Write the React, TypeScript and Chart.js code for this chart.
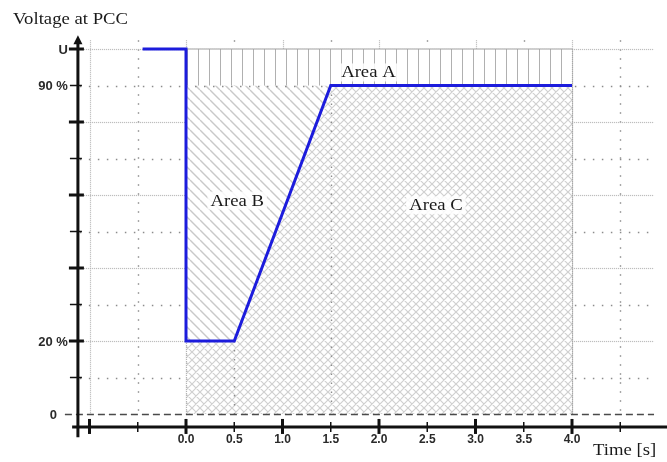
import React, { useEffect, useRef } from 'react';
import { Chart, registerables } from 'chart.js';

Chart.register(...registerables);

// Voltage profile at the point of common coupling (time in s, voltage in % of U)
const stepTime = [-0.45, 0, 0, 0.5, 1.5, 4];
const stepVoltage = [100, 100, 20, 20, 90, 90];

// Area A: band between 90 % and U
const areaATime = [0, 4];
const areaAUpper = [100, 100];
const areaABase = 90;

// Area B: between the voltage curve and 90 %
const areaBTime = [0, 0.5, 1.5];
const areaBLower = [20, 20, 90];
const areaBBase = 90;

// Area C: below the voltage curve
const areaCTime = [0, 0.5, 1.5, 4];
const areaCUpper = [20, 20, 90, 90];
const areaCBase = 0;

const xTickValues = [-1, -0.5, 0, 0.5, 1, 1.5, 2, 2.5, 3, 3.5, 4, 4.5];
const xTickLabels = ['', '', '0.0', '0.5', '1.0', '1.5', '2.0', '2.5', '3.0', '3.5', '4.0', ''];
const yTickValues = [0, 10, 20, 30, 40, 50, 60, 70, 80, 90, 100];
const yTickLabels = ['0', '', '20 %', '', '', '', '', '', '', '90 %', 'U'];

const areaNames = ['Area A', 'Area B', 'Area C'];

const SERIF = "'Liberation Serif', 'Times New Roman', serif";
const SANS = "'Liberation Sans', Arial, sans-serif";

const toPoints = (xs: number[], ys: number[]) => xs.map((x, i) => ({ x, y: ys[i] }));

function makePattern(size: number, color: string, width: number, draw: (g: CanvasRenderingContext2D, s: number) => void) {
  const c = document.createElement('canvas');
  c.width = size;
  c.height = size;
  const g = c.getContext('2d')!;
  g.fillStyle = '#ffffff';
  g.fillRect(0, 0, size, size);
  g.strokeStyle = color;
  g.lineWidth = width;
  g.beginPath();
  draw(g, size);
  g.stroke();
  return g.createPattern(c, 'repeat')!;
}

function serifText(ctx: CanvasRenderingContext2D, text: string, x: number, y: number, align: 'left' | 'center') {
  const sx = 1.1;
  ctx.save();
  ctx.font = `17px ${SERIF}`;
  ctx.fillStyle = '#1a1a1a';
  ctx.textBaseline = 'alphabetic';
  ctx.textAlign = 'left';
  const w = ctx.measureText(text).width * sx;
  const left = align === 'center' ? x - w / 2 : x;
  ctx.translate(left, y);
  ctx.scale(sx, 1);
  ctx.fillText(text, 0, 0);
  ctx.restore();
  return w;
}

const seg = (ctx: CanvasRenderingContext2D, x1: number, y1: number, x2: number, y2: number) => {
  ctx.beginPath();
  ctx.moveTo(x1, y1);
  ctx.lineTo(x2, y2);
  ctx.stroke();
};

const setGrid = (ctx: CanvasRenderingContext2D, major: boolean) => {
  if (major) {
    ctx.strokeStyle = '#b4b4b4';
    ctx.lineWidth = 1.2;
    ctx.setLineDash([1, 1]);
  } else {
    ctx.strokeStyle = '#8c8c8c';
    ctx.lineWidth = 1.4;
    ctx.setLineDash([1.5, 7.5]);
  }
};

const framePlugin = {
  id: 'frame',
  beforeDatasetsDraw(chart: any) {
    const ctx: CanvasRenderingContext2D = chart.ctx;
    const xs = chart.scales.x;
    const ys = chart.scales.y;
    ctx.save();
    const gTop = ys.getPixelForValue(102.4);
    const gBottom = ys.getPixelForValue(0);
    for (const t of xTickValues) {
      const px = Math.round(xs.getPixelForValue(t)) + 0.5;
      setGrid(ctx, Number.isInteger(t));
      seg(ctx, px, gTop, px, gBottom);
    }
    const gLeft = xs.getPixelForValue(-1.1);
    const gRight = xs.getPixelForValue(4.85);
    for (const v of yTickValues) {
      if (v === 0) continue;
      const py = Math.round(ys.getPixelForValue(v)) + 0.5;
      setGrid(ctx, v % 20 === 0);
      seg(ctx, gLeft, py, gRight, py);
    }
    ctx.restore();
  },
  // drop lines from the curve's breakpoints, drawn just beneath the voltage curve
  beforeDatasetDraw(chart: any, args: any) {
    if (args.index !== 0) return;
    const ctx: CanvasRenderingContext2D = chart.ctx;
    const xs = chart.scales.x;
    const ys = chart.scales.y;
    ctx.save();
    const py0 = ys.getPixelForValue(0);
    for (let i = 2; i < stepTime.length; i++) {
      const t = stepTime[i];
      const px = Math.round(xs.getPixelForValue(t)) + 0.5;
      const last = i === stepTime.length - 1;
      if (last) {
        ctx.strokeStyle = '#a8a8a8';
        ctx.lineWidth = 1.2;
        ctx.setLineDash([1, 1]);
        seg(ctx, px, ys.getPixelForValue(areaAUpper[1]), px, py0);
      } else {
        setGrid(ctx, Number.isInteger(t));
        seg(ctx, px, ys.getPixelForValue(stepVoltage[i]), px, py0);
      }
    }
    // top edge of Area B at 90 %
    const py90 = Math.round(ys.getPixelForValue(areaBBase)) + 0.5;
    setGrid(ctx, false);
    seg(ctx, xs.getPixelForValue(0), py90, xs.getPixelForValue(1.5), py90);

    // dashed zero line
    ctx.strokeStyle = '#4a4a4a';
    ctx.lineWidth = 1.5;
    ctx.setLineDash([7, 4]);
    const pz = Math.round(py0) + 0.5;
    seg(ctx, xs.getPixelForValue(-1.255), pz, xs.getPixelForValue(4.85), pz);
    ctx.restore();
  },
  afterDatasetsDraw(chart: any) {
    const ctx: CanvasRenderingContext2D = chart.ctx;
    const xs = chart.scales.x;
    const ys = chart.scales.y;
    ctx.save();
    ctx.setLineDash([]);
    ctx.strokeStyle = '#111';
    ctx.fillStyle = '#111';

    const axisY = ys.getPixelForValue(-3.55);
    const axisX = xs.getPixelForValue(-1.12);

    // horizontal axis
    ctx.lineWidth = 3;
    seg(ctx, xs.getPixelForValue(-1.18), axisY, chart.width, axisY);
    // vertical axis with arrow
    const arrowTip = ys.getPixelForValue(103.8);
    seg(ctx, axisX, ys.getPixelForValue(-6.4), axisX, arrowTip + 6);
    ctx.beginPath();
    ctx.moveTo(axisX, arrowTip);
    ctx.lineTo(axisX - 4.5, arrowTip + 9);
    ctx.lineTo(axisX + 4.5, arrowTip + 9);
    ctx.closePath();
    ctx.fill();

    // x ticks and labels
    ctx.font = `bold 12px ${SANS}`;
    ctx.textAlign = 'center';
    ctx.textBaseline = 'alphabetic';
    xTickValues.forEach((t, i) => {
      const px = xs.getPixelForValue(t);
      const major = Number.isInteger(t);
      ctx.lineWidth = major ? 3 : 1.5;
      if (major) seg(ctx, px, axisY - 8, px, axisY + 7);
      else seg(ctx, px, axisY - 5, px, axisY + 5);
      if (xTickLabels[i]) {
        ctx.fillStyle = '#2a2a2a';
        ctx.fillText(xTickLabels[i], px, axisY + 16);
      }
    });

    // y ticks and labels
    ctx.font = `bold 13px ${SANS}`;
    ctx.textAlign = 'right';
    ctx.textBaseline = 'middle';
    yTickValues.forEach((v, i) => {
      const py = ys.getPixelForValue(v);
      if (v !== 0) {
        const major = v % 20 === 0;
        ctx.lineWidth = major ? 3 : 1.5;
        if (major) seg(ctx, axisX - 9, py, axisX + 6, py);
        else seg(ctx, axisX - 8, py, axisX + 4, py);
      }
      if (yTickLabels[i]) {
        ctx.fillStyle = '#2a2a2a';
        const right = v === 0 ? axisX - 21 : axisX - 10;
        ctx.fillText(yTickLabels[i], right, py + 1);
      }
    });

    // area names on a light backing
    const anchors = [
      { x: 1.89, y: 92.2 },
      { x: 0.53, y: 57.1 },
      { x: 2.59, y: 55.8 },
    ];
    areaNames.forEach((name, i) => {
      const cx = xs.getPixelForValue(anchors[i].x);
      const by = ys.getPixelForValue(anchors[i].y);
      ctx.save();
      ctx.font = `17px ${SERIF}`;
      const w = ctx.measureText(name).width * 1.1;
      ctx.fillStyle = 'rgba(255,255,255,0.85)';
      ctx.fillRect(cx - w / 2 - 3, by - 14, w + 6, 18);
      ctx.restore();
      serifText(ctx, name, cx, by, 'center');
    });

    // titles
    serifText(ctx, 'Voltage at PCC', 13, 24, 'left');
    serifText(ctx, 'Time [s]', 593, 455, 'left');
    ctx.restore();
  },
};

export default function App() {
  const canvasRef = useRef<HTMLCanvasElement | null>(null);

  useEffect(() => {
    const canvas = canvasRef.current;
    if (!canvas) return;

    const vertical = makePattern(11, '#b0b0b0', 1, (g, s) => {
      g.moveTo(0.5, -1);
      g.lineTo(0.5, s + 1);
    });
    const diagonal = makePattern(10, '#c9c9c9', 1.4, (g, s) => {
      for (const d of [-s, 0, s]) {
        g.moveTo(d, 0);
        g.lineTo(d + s, s);
      }
    });
    const cross = makePattern(8, '#d0d0d0', 1.2, (g, s) => {
      for (const d of [-s, 0, s]) {
        g.moveTo(d, 0);
        g.lineTo(d + s, s);
        g.moveTo(d, s);
        g.lineTo(d + s, 0);
      }
    });

    // 96.5 px per second with t = 0 at x = 186; 3.65 px per % with 0 % at y = 414
    const pxX = 96.5;
    const pxY = 3.65;
    const xMin = -1.15, xMax = 4.95, yMin = -4, yMax = 104;
    const left = 186 + xMin * pxX;
    const right = 667 - left - (xMax - xMin) * pxX;
    const top = 414 - yMax * pxY;
    const bottom = 462 - top - (yMax - yMin) * pxY;

    const chart = new Chart(canvas, {
      type: 'line',
      data: {
        datasets: [
          {
            label: 'Voltage',
            data: toPoints(stepTime, stepVoltage),
            borderColor: '#1c1cdc',
            borderWidth: 3,
            borderJoinStyle: 'miter',
            fill: false,
            pointRadius: 0,
            tension: 0,
            order: 0,
          },
          {
            label: 'Area A',
            data: toPoints(areaATime, areaAUpper),
            borderColor: '#a0a0a0',
            borderWidth: 1,
            backgroundColor: vertical,
            fill: { value: areaABase },
            pointRadius: 0,
            order: 1,
          },
          {
            label: 'Area B',
            data: toPoints(areaBTime, areaBLower),
            borderColor: 'transparent',
            borderWidth: 1,
            backgroundColor: diagonal,
            fill: { value: areaBBase },
            pointRadius: 0,
            order: 2,
          },
          {
            label: 'Area C',
            data: toPoints(areaCTime, areaCUpper),
            borderColor: 'transparent',
            borderWidth: 1,
            backgroundColor: cross,
            fill: { value: areaCBase },
            pointRadius: 0,
            order: 3,
          },
        ],
      },
      options: {
        animation: false,
        responsive: false,
        devicePixelRatio: 1,
        layout: { padding: { left, right, top, bottom } },
        scales: {
          x: { type: 'linear', min: xMin, max: xMax, display: false },
          y: { type: 'linear', min: yMin, max: yMax, display: false },
        },
        plugins: {
          legend: { display: false },
          tooltip: { enabled: false },
        },
      },
      plugins: [framePlugin],
    } as any);

    return () => chart.destroy();
  }, []);

  return (
    <div style={{ position: 'fixed', left: 0, top: 0, width: 667, height: 462, background: '#fff' }}>
      <canvas ref={canvasRef} width={667} height={462} />
    </div>
  );
}
